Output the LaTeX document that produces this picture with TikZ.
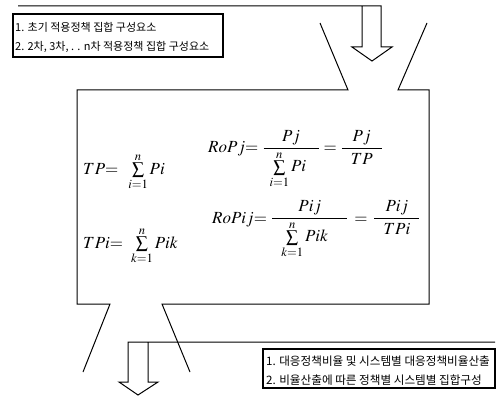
\documentclass[tikz,border=0pt]{standalone}
\usepackage{amsmath}
\usepackage{mathptmx}
\usepackage{fontspec}
\newfontfamily\kr{Noto Sans CJK KR}
\newcommand\tsum[2]{\mathop{\sum\limits_{\raisebox{2.5pt}{$\scriptstyle #1$}}^{\raisebox{-2.5pt}{$\scriptstyle #2$}}}}
\newcommand\wbox[2]{\makebox[#1]{$\textstyle #2$}}
\newcommand\lbox[3]{\makebox[#1][l]{\hspace{#2}$\textstyle #3$}}
\begin{document}
\begin{tikzpicture}[x=1pt,y=-1pt,
  outl/.style={draw=black,line width=1pt,line join=miter},
  txtbox/.style={draw=black,line width=1.2pt},
  krtxt/.style={anchor=west,inner sep=0pt,font=\kr\fontsize{11}{13}\selectfont},
  krtxtb/.style={anchor=west,inner sep=0pt,font=\kr\fontsize{11.6}{13}\selectfont},
  fml/.style={anchor=base west,inner sep=0pt,font=\fontsize{17}{20}\selectfont}]
\useasboundingbox (0,0) rectangle (503,401);
% top arrow with its top line
\draw[outl] (18,6) -- (381,6) -- (381,47) -- (392,47) -- (372,61) -- (352,47) -- (362,47) -- (362,6);
% main callout box
\draw[outl] (320,23) -- (348,90) -- (77,90) -- (77,304) -- (110,304) -- (83,372);
\draw[outl] (190,372) -- (162,304) -- (429,304) -- (429,90) -- (398,90) -- (427,23);
% bottom arrow with its top line
\draw[outl] (495,342) -- (128,342) -- (128,382) -- (119,382) -- (138,395) -- (158,382) -- (148,382) -- (148,342);
% top-left text box
\draw[txtbox] (13,14) rectangle (223,57);
\node[krtxt] (t1) at (15,27) {1. 초기 적용정책 집합 구성요소};
\node[krtxt] (t2) at (15,47) {2. 2차, 3차, . . n차 적용정책 집합 구성요소};
% bottom-right text box
\draw[txtbox] (263,349) rectangle (495,388);
\node[krtxtb] (b1) at (266,361) {1. 대응정책비율 및 시스템별 대응정책비율산출};
\node[krtxtb] (b2) at (266,380) {2. 비율산출에 따른 정책별 시스템별 집합구성};
% formulas
\node[fml] (f1) at (83,174) {$TP{=}\hspace{8pt}\tsum{i=1}{n}Pi$};
\node[fml] (f2) at (208,153) {$RoPj{=}\hspace{4pt}\dfrac{Pj}{\lbox{55pt}{6pt}{\tsum{i=1}{n}Pi}}=\dfrac{\wbox{40pt}{Pj}}{TP}$};
\node[fml] (f3) at (83,248) {$TPi{=}\hspace{6pt}\tsum{k=1}{n}Pik$};
\node[fml] (f4) at (212,223) {$RoPij{=}\hspace{4pt}\dfrac{Pij}{\lbox{75pt}{9pt}{\tsum{k=1}{n}Pik}}\hspace{2pt}=\hspace{2pt}\dfrac{\wbox{45pt}{Pij}}{TPi}$};
\end{tikzpicture}
\end{document}
